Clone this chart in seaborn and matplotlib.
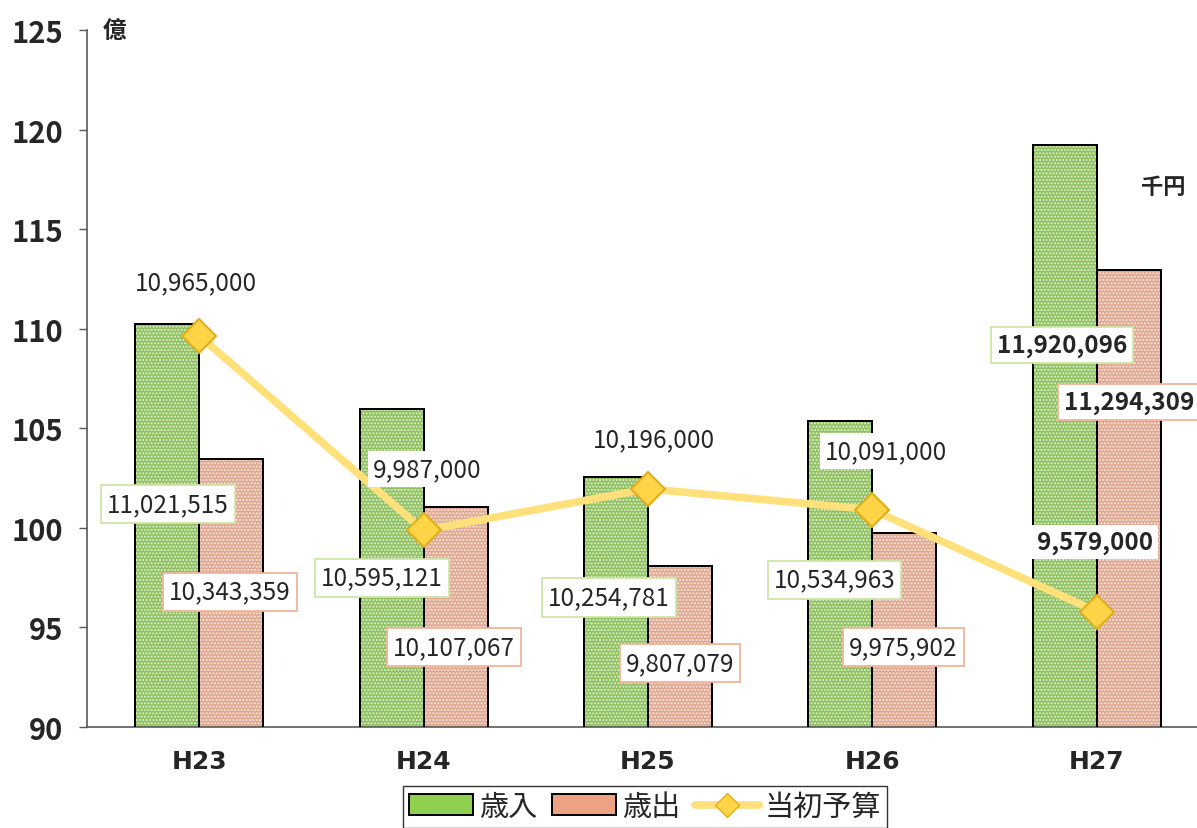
import numpy as np
import pandas as pd
import matplotlib
matplotlib.use("Agg")
import matplotlib.pyplot as plt
import seaborn as sns
from matplotlib.patches import Patch, Rectangle
from matplotlib.lines import Line2D

sns.set_style("white")
plt.rcParams['font.family'] = ['Noto Sans CJK JP', 'DejaVu Sans']
plt.rcParams['hatch.linewidth'] = 1.0

# ---- data (千円) ----
years = ['H23', 'H24', 'H25', 'H26', 'H27']
revenue = [11021515, 10595121, 10254781, 10534963, 11920096]   # 歳入
expenditure = [10343359, 10107067, 9807079, 9975902, 11294309]  # 歳出
budget = [10965000, 9987000, 10196000, 10091000, 9579000]      # 当初予算

# ---- label layout (x offset from category, y in 億) ----
rev_lab_pos = [(-0.138, 101.2), (-0.187, 97.5), (-0.174, 96.5), (-0.169, 97.4), (-0.156, 109.2)]
exp_lab_pos = [(0.138, 96.8), (0.134, 94.0), (0.143, 93.2), (0.138, 94.0), (0.145, 106.3)]
bud_lab_pos = [(-0.013, 112.35), (0.018, 102.96), (0.027, 104.46), (0.062, 103.86), (-0.009, 99.29)]

GREEN = '#8fd14f'
SALMON = '#eda383'
LINE = '#ffe07a'
MARK = '#ffd447'
MARK_EDGE = '#e2ad1c'

df = pd.DataFrame({
    '年度': years * 2,
    '区分': ['歳入'] * 5 + ['歳出'] * 5,
    '億円': [v / 100000 for v in revenue + expenditure],
})

fig = plt.figure(figsize=(11.97, 8.29), dpi=100)
ax = fig.add_axes([87 / 1197, 101 / 829, (1209 - 87) / 1197, 697 / 829])

sns.barplot(data=df, x='年度', y='億円', hue='区分', hue_order=['歳入', '歳出'],
            palette=[GREEN, SALMON], width=0.57, gap=0, edgecolor='black',
            linewidth=1.4, legend=False, ax=ax, zorder=2)

# white dot pattern on the bars
for p in list(ax.patches):
    ax.add_patch(Rectangle(p.get_xy(), p.get_width(), p.get_height(), fill=False,
                           hatch='.....', edgecolor='white', linewidth=0, alpha=0.7, zorder=2.5))
    ax.add_patch(Rectangle(p.get_xy(), p.get_width(), p.get_height(), fill=False,
                           edgecolor='black', linewidth=1.4, zorder=2.6))

x = np.arange(len(years))
bud = [v / 100000 for v in budget]
sns.lineplot(x=x, y=bud, ax=ax, color=LINE, linewidth=5.5, zorder=3, legend=False)
ax.plot(x, bud, linestyle='none', marker='D', markersize=17, markerfacecolor=MARK,
        markeredgecolor=MARK_EDGE, markeredgewidth=1.5, zorder=4)

# data labels
for i in range(len(years)):
    bold = 'bold' if i == len(years) - 1 else 'normal'
    dx, y = rev_lab_pos[i]
    ax.text(i + dx, y, f'{revenue[i]:,}', ha='center', va='center', fontsize=17.5, weight=bold,
            zorder=5, bbox=dict(boxstyle='square,pad=0.25', fc='white', ec='#cde6a6', lw=1.3))
    dx, y = exp_lab_pos[i]
    ax.text(i + dx, y, f'{expenditure[i]:,}', ha='center', va='center', fontsize=17.5, weight=bold,
            zorder=5, bbox=dict(boxstyle='square,pad=0.25', fc='white', ec='#f0b59b', lw=1.3))
    dx, y = bud_lab_pos[i]
    ax.text(i + dx, y, f'{budget[i]:,}', ha='center', va='center', fontsize=17.5, weight=bold,
            zorder=5, bbox=dict(boxstyle='square,pad=0.2', fc='white', ec='none'))

ax.set_xlim(-0.5, 4.5)
ax.set_ylim(90, 125)
ax.set_yticks(range(90, 126, 5))
ax.set_xlabel('')
ax.set_ylabel('')
for lab in ax.get_yticklabels():
    lab.set_fontsize(21)
    lab.set_fontweight('bold')
for lab in ax.get_xticklabels():
    lab.set_family('DejaVu Sans')
    lab.set_fontsize(18)
    lab.set_fontweight('bold')
ax.tick_params(axis='y', direction='out', length=6, width=1, color='#595959', pad=11, left=True)
ax.tick_params(axis='x', length=0, pad=16)
sns.despine(ax=ax, top=True, right=True)
for s in ['left', 'bottom']:
    ax.spines[s].set_color('#595959')
    ax.spines[s].set_linewidth(1.2)

fig.text(103 / 1197, 1 - 31 / 829, '億', fontsize=17, weight='bold', va='center', ha='left')
fig.text(1163 / 1197, 1 - 188 / 829, '千円', fontsize=16, weight='bold', va='center', ha='center')

handles = [
    Patch(facecolor=GREEN, edgecolor='black', linewidth=1.4),
    Patch(facecolor=SALMON, edgecolor='black', linewidth=1.4),
    Line2D([0], [0], color=LINE, linewidth=5.5, marker='D', markersize=12,
           markerfacecolor=MARK, markeredgecolor=MARK_EDGE),
]
fig.legend(handles, ['歳入', '歳出', '当初予算'], loc='upper center',
           bbox_to_anchor=(645 / 1197, 1 - 787 / 829), ncol=3, fontsize=21,
           frameon=True, fancybox=False, edgecolor='black', handlelength=2.2,
           handletextpad=0.2, columnspacing=0.5, borderpad=0.2, borderaxespad=0)

fig.savefig('out.png', dpi=100)
